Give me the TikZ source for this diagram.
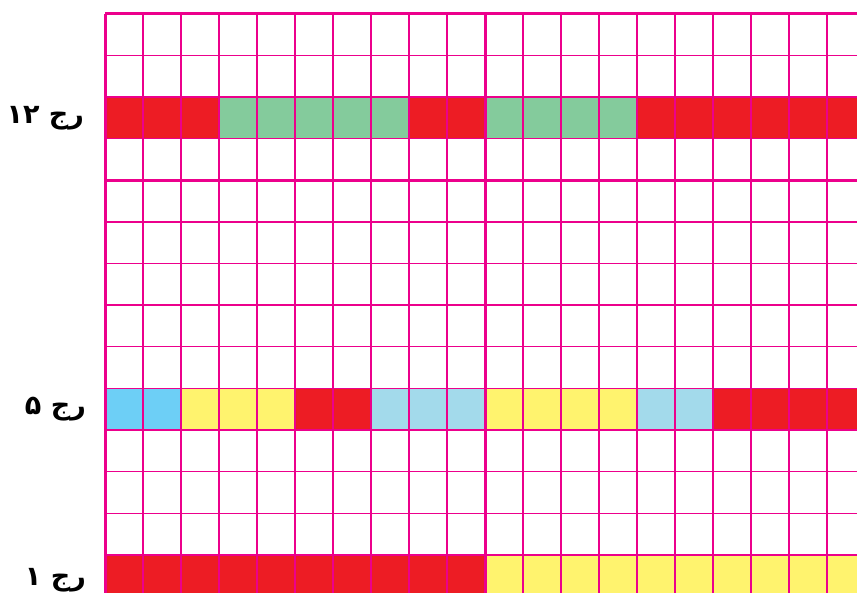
\documentclass[tikz,border=0pt]{standalone}
\usepackage{fontspec}
\newfontfamily\arabicfont[Script=Arabic]{DejaVu Sans}
\TeXXeTstate=1
\usetikzlibrary{positioning}
\definecolor{gridPink}{HTML}{EC008C}
\definecolor{cellRed}{HTML}{ED1C24}
\definecolor{cellGreen}{HTML}{84CB9C}
\definecolor{cellYellow}{HTML}{FFF36E}
\definecolor{cellCyan}{HTML}{6DCFF6}
\definecolor{cellSky}{HTML}{A3DAEB}

\begin{document}
\begin{tikzpicture}[
    gridline/.style={draw=gridPink, line width=1.4pt},
    gridmajor/.style={draw=gridPink, line width=3pt},
    rowlabel/.style={anchor=east, inner sep=0pt,
                font=\arabicfont\bfseries\fontsize{27}{31}\selectfont},
  ]
    \clip (0,0) rectangle (857pt,-593pt);
    \fill[white] (0,0) rectangle (857pt,-593pt);

    \begin{scope}[shift={(105pt,-14pt)}, x=38pt, y=-41.6pt]
      % coloured stitches: row / first column / last column / colour
      \foreach \r/\a/\b/\col in {
          2/0/3/cellRed, 2/3/8/cellGreen, 2/8/10/cellRed,
          2/10/14/cellGreen, 2/14/20/cellRed,
          9/0/2/cellCyan, 9/2/5/cellYellow, 9/5/7/cellRed, 9/7/10/cellSky,
          9/10/14/cellYellow, 9/14/16/cellSky, 9/16/20/cellRed,
          13/0/10/cellRed, 13/10/20/cellYellow}
        \fill[\col] (\a,\r) rectangle (\b,\r+1);

      % grid
      \foreach \i in {0,...,20}
        \draw[gridline] (\i,0) -- (\i,14);
      \foreach \j in {0,...,14}
        \draw[gridline] (0,\j) -- (20,\j);
      \foreach \i in {0,10,20}
        \draw[gridmajor] (\i,0) -- (\i,14);
      \foreach \j in {0,4,14}
        \draw[gridmajor] (0,\j) -- (20,\j);

      % row labels
      \node[rowlabel] (row12) at (-0.55,2.5) {\beginR رج \beginL۱۲\endL\endR};
      \node[rowlabel] (row5) at (-0.5,9.5) {\beginR رج ۵\endR};
      \node[rowlabel] (row1) at (-0.5,13.6) {\beginR رج ۱\endR};
    \end{scope}
  \end{tikzpicture}
\end{document}
